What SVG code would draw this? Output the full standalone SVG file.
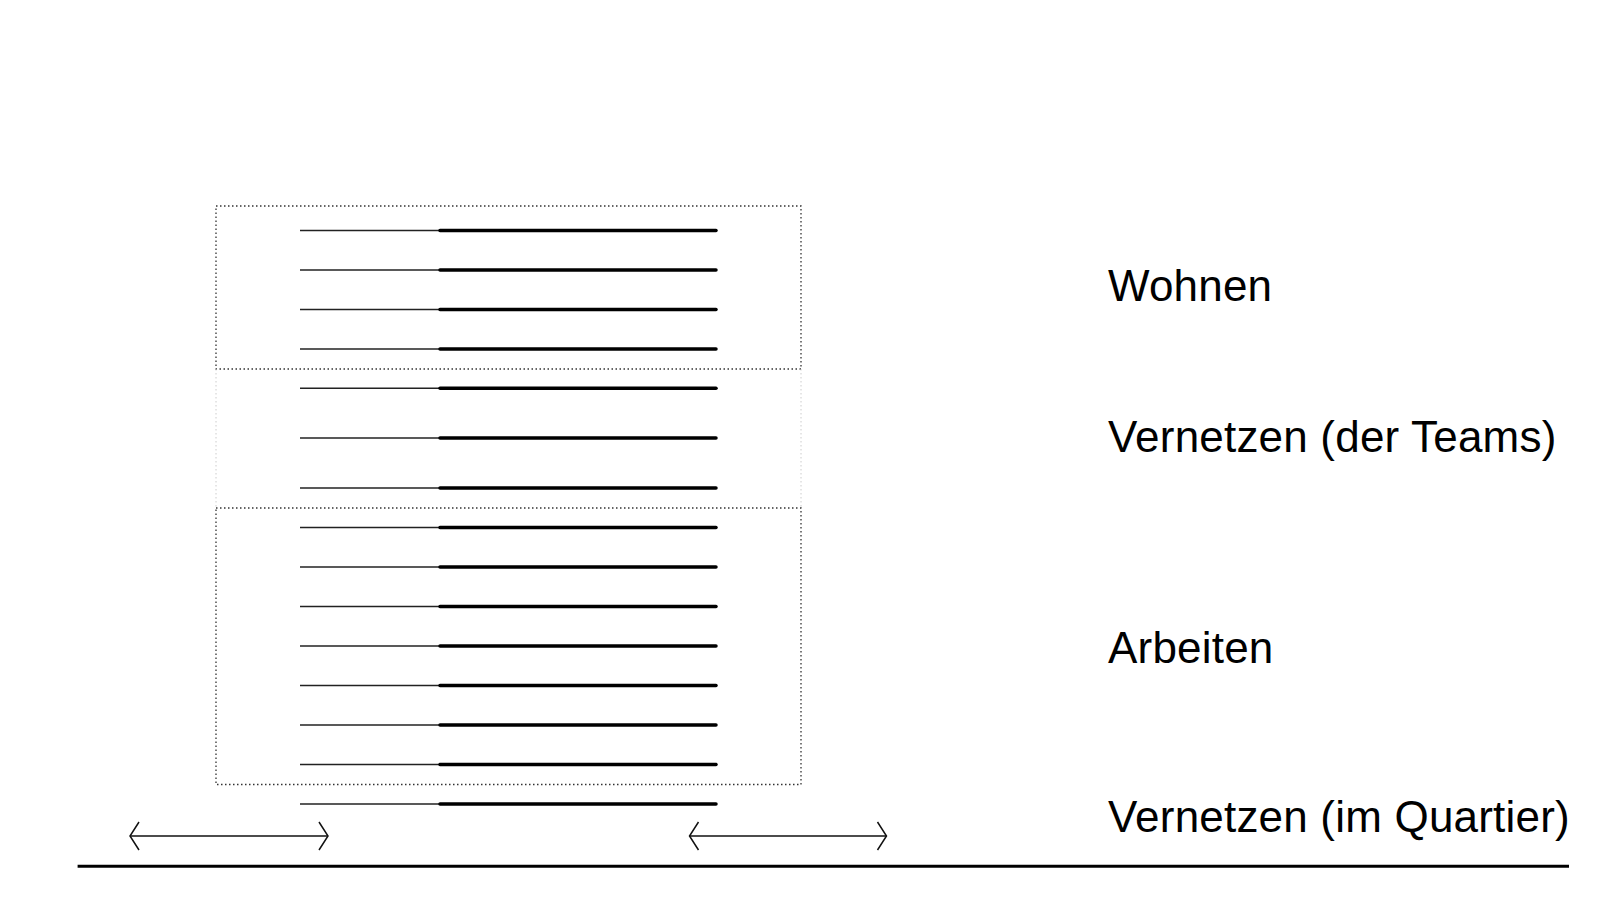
<svg xmlns="http://www.w3.org/2000/svg" width="1600" height="923" viewBox="0 0 1600 923">
<style>
.bg{fill:#fff}
.box{fill:none;stroke:#333;stroke-width:1.3;stroke-dasharray:1.5 2.5}
.faint{fill:none;stroke:#ccc;stroke-width:1;stroke-dasharray:1.5 2.5}
.thin{stroke:#222;stroke-width:1.5}
.thick{stroke:#000;stroke-width:3.5;stroke-linecap:round}
.arr{fill:none;stroke:#111;stroke-width:1.5}
.base{stroke:#000;stroke-width:3}
.lbl{font-family:"Liberation Sans",Arial,sans-serif;font-size:44px;letter-spacing:0.2px;fill:#000}
</style>
<rect class="bg" x="0" y="0" width="1600" height="923"/>
<g id="building">
<g id="floors">
<line class="thin" x1="300" y1="230.6" x2="440" y2="230.6"/><line class="thick" x1="440" y1="230.6" x2="716" y2="230.6"/>
<line class="thin" x1="300" y1="270.1" x2="440" y2="270.1"/><line class="thick" x1="440" y1="270.1" x2="716" y2="270.1"/>
<line class="thin" x1="300" y1="309.6" x2="440" y2="309.6"/><line class="thick" x1="440" y1="309.6" x2="716" y2="309.6"/>
<line class="thin" x1="300" y1="349.1" x2="440" y2="349.1"/><line class="thick" x1="440" y1="349.1" x2="716" y2="349.1"/>
<line class="thin" x1="300" y1="388.3" x2="440" y2="388.3"/><line class="thick" x1="440" y1="388.3" x2="716" y2="388.3"/>
<line class="thin" x1="300" y1="438.1" x2="440" y2="438.1"/><line class="thick" x1="440" y1="438.1" x2="716" y2="438.1"/>
<line class="thin" x1="300" y1="488" x2="440" y2="488"/><line class="thick" x1="440" y1="488" x2="716" y2="488"/>
<line class="thin" x1="300" y1="527.5" x2="440" y2="527.5"/><line class="thick" x1="440" y1="527.5" x2="716" y2="527.5"/>
<line class="thin" x1="300" y1="567" x2="440" y2="567"/><line class="thick" x1="440" y1="567" x2="716" y2="567"/>
<line class="thin" x1="300" y1="606.5" x2="440" y2="606.5"/><line class="thick" x1="440" y1="606.5" x2="716" y2="606.5"/>
<line class="thin" x1="300" y1="646" x2="440" y2="646"/><line class="thick" x1="440" y1="646" x2="716" y2="646"/>
<line class="thin" x1="300" y1="685.5" x2="440" y2="685.5"/><line class="thick" x1="440" y1="685.5" x2="716" y2="685.5"/>
<line class="thin" x1="300" y1="725" x2="440" y2="725"/><line class="thick" x1="440" y1="725" x2="716" y2="725"/>
<line class="thin" x1="300" y1="764.5" x2="440" y2="764.5"/><line class="thick" x1="440" y1="764.5" x2="716" y2="764.5"/>
<line class="thin" x1="300" y1="804" x2="440" y2="804"/><line class="thick" x1="440" y1="804" x2="716" y2="804"/>
</g>
</g>
<g id="zone-wohnen">
<rect class="box" x="216" y="206" width="585" height="163"/>
<text class="lbl" x="1108" y="300.7">Wohnen</text>
</g>
<g id="zone-vernetzen-teams">
<line class="faint" x1="216" y1="369" x2="216" y2="508"/>
<line class="faint" x1="801" y1="369" x2="801" y2="508"/>
<text class="lbl" x="1108" y="451.7">Vernetzen (der Teams)</text>
</g>
<g id="zone-arbeiten">
<rect class="box" x="216" y="508" width="585" height="276.5"/>
<text class="lbl" x="1108" y="663.3">Arbeiten</text>
</g>
<g id="zone-vernetzen-quartier">
<text class="lbl" x="1108" y="831.7">Vernetzen (im Quartier)</text>
</g>
<g id="connectors">
<line class="arr" x1="130" y1="836" x2="328" y2="836"/>
<polyline class="arr" points="139,822 130,836 139,850"/>
<polyline class="arr" points="319,822 328,836 319,850"/>
<line class="arr" x1="689.5" y1="836" x2="886.5" y2="836"/>
<polyline class="arr" points="698.5,822 689.5,836 698.5,850"/>
<polyline class="arr" points="877.5,822 886.5,836 877.5,850"/>
</g>
<g id="ground">
<line class="base" x1="77.6" y1="866.3" x2="1569" y2="866.3"/>
</g>
</svg>
